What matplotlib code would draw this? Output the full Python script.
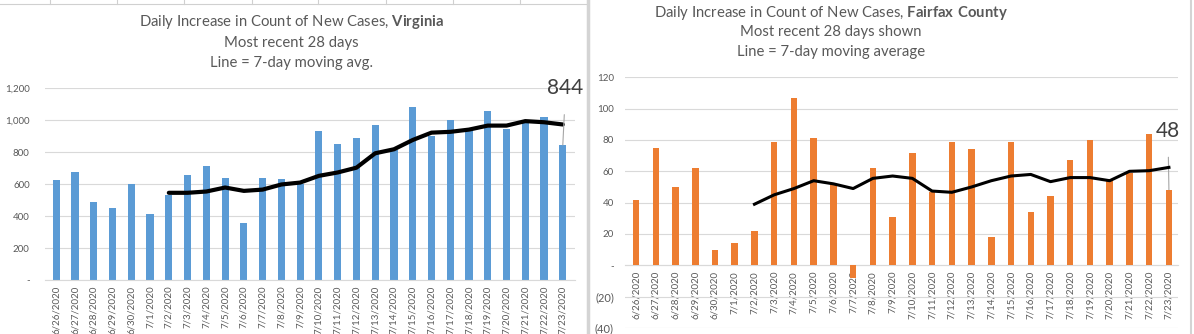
import matplotlib
matplotlib.use("Agg")
import matplotlib.pyplot as plt
from matplotlib.lines import Line2D
import numpy as np

plt.rcParams['font.family'] = ['Lato', 'DejaVu Sans']
plt.rcParams['mathtext.fontset'] = 'custom'
plt.rcParams['mathtext.rm'] = 'Lato'
plt.rcParams['mathtext.bf'] = 'Lato:bold'

dates = ["6/26/2020", "6/27/2020", "6/28/2020", "6/29/2020", "6/30/2020", "7/1/2020",
         "7/2/2020", "7/3/2020", "7/4/2020", "7/5/2020", "7/6/2020", "7/7/2020",
         "7/8/2020", "7/9/2020", "7/10/2020", "7/11/2020", "7/12/2020", "7/13/2020",
         "7/14/2020", "7/15/2020", "7/16/2020", "7/17/2020", "7/18/2020", "7/19/2020",
         "7/20/2020", "7/21/2020", "7/22/2020", "7/23/2020"]

va_cases = [624, 674, 486, 448, 601, 410, 534, 655, 714, 637, 356, 637, 630, 603,
            932, 850, 890, 970, 812, 1083, 903, 1001, 942, 1058, 945, 980, 1020, 844]
va_avg = [None] * 6 + [545, 545, 553, 578, 557, 565, 597, 609, 651, 672, 702, 792,
                       817, 875, 921, 926, 940, 965, 965, 993, 986, 972]

ff_cases = [42, 75, 50, 62, 10, 14, 22, 79, 107, 81, 52, -8, 62, 31, 72, 47, 79, 74,
            18, 79, 34, 44, 67, 80, 55, 59, 84, 48]
ff_avg = [None] * 6 + [39, 45, 49, 54, 52, 49, 55.5, 57, 55.5, 47.4, 46.6, 50, 54,
                       57, 58, 53.4, 56, 56, 54, 60, 60.4, 62.5]

va_yticks = [0, 200, 400, 600, 800, 1000, 1200]
ff_yticks = [-40, -20, 0, 20, 40, 60, 80, 100, 120]

TXT = '#595959'
GRID = '#d9d9d9'
W, H = 1194, 334

fig = plt.figure(figsize=(W / 100, H / 100), dpi=100)
fig.patch.set_facecolor('white')


def fx(px):
    return px / W


def fy(py):
    return 1 - py / H


def fmt_va(v):
    return '-' if v == 0 else f"{v:,}"


def fmt_ff(v):
    if v == 0:
        return '-'
    if v < 0:
        return f"({-v})"
    return f"{v}"


def avg_xy(avg):
    xs = [i for i, v in enumerate(avg) if v is not None]
    ys = [avg[i] for i in xs]
    return xs, ys


x = np.arange(len(dates))

# ---------------- Left chart: Virginia ----------------
ax1 = fig.add_axes([fx(45), fy(280), fx(575 - 45), (280 - 88) / H])
ax1.bar(x, va_cases, width=0.38, color='#5b9bd5', zorder=2)
xs, ys = avg_xy(va_avg)
ax1.plot(xs, ys, color='black', lw=3.0, zorder=3, solid_capstyle='round')
ax1.set_ylim(0, 1200)
ax1.set_xlim(-0.6, 27.65)
ax1.set_yticks(va_yticks)
ax1.set_yticklabels([fmt_va(v) for v in va_yticks])
ax1.set_xticks(x)
ax1.set_xticklabels(dates)
ax1.grid(axis='y', color=GRID, lw=0.8, zorder=0)
for s in ['top', 'right', 'left']:
    ax1.spines[s].set_visible(False)
ax1.spines['bottom'].set_color(GRID)
ax1.tick_params(axis='y', length=0, pad=11, labelsize=7, labelcolor=TXT)
ax1.tick_params(axis='x', length=0, pad=4, labelsize=7, labelcolor=TXT, labelrotation=90)
ax1.annotate(f"{va_cases[-1]}", xy=(27, va_cases[-1]), xytext=(27.15, 1200),
             ha='center', va='center', fontsize=15, color='#404040',
             arrowprops=dict(arrowstyle='-', color='#a6a6a6', lw=0.8,
                             shrinkA=10, shrinkB=0), annotation_clip=False)

fig.text(fx(291), fy(22), r"Daily Increase in Count of New Cases, $\mathbf{Virginia}$",
         ha='center', va='center', fontsize=10.7, color=TXT)
fig.text(fx(291), fy(43), "Most recent 28 days", ha='center', va='center',
         fontsize=10.7, color=TXT)
fig.text(fx(291), fy(63), "Line = 7-day moving avg.", ha='center', va='center',
         fontsize=10.7, color=TXT)

# ---------------- Right chart: Fairfax ----------------
ax2 = fig.add_axes([fx(625), fy(328), fx(1178 - 625), (328 - 77.3) / H])
ax2.spines['bottom'].set_position(('data', 0))
ax2.bar(x, ff_cases, width=0.33, color='#ed7d31', zorder=4)
xs, ys = avg_xy(ff_avg)
ax2.plot(xs, ys, color='black', lw=2.2, zorder=5)
ax2.set_ylim(-40, 120)
ax2.set_xlim(-0.56, 27.46)
ax2.set_yticks(ff_yticks)
ax2.set_yticklabels([fmt_ff(v) for v in ff_yticks])
ax2.set_xticks(x)
ax2.set_xticklabels(dates)
ax2.grid(axis='y', color=GRID, lw=0.8, zorder=0)
for s in ['top', 'right', 'left']:
    ax2.spines[s].set_visible(False)
ax2.spines['bottom'].set_color(GRID)
ax2.tick_params(axis='y', length=0, pad=8, labelsize=7, labelcolor=TXT)
ax2.tick_params(axis='x', length=0, pad=4, labelsize=7, labelcolor=TXT, labelrotation=90)
for v, lab in zip(ff_yticks, ax2.get_yticklabels()):
    if v < 0:
        lab.set_fontsize(8)
ax2.annotate(f"{ff_cases[-1]}", xy=(27, ff_cases[-1]), xytext=(26.95, 86),
             ha='center', va='center', fontsize=15, color='#404040',
             arrowprops=dict(arrowstyle='-', color='#a6a6a6', lw=0.8,
                             shrinkA=10, shrinkB=0), annotation_clip=False)

fig.text(fx(831), fy(13), r"Daily Increase in Count of New Cases, $\mathbf{Fairfax\ County}$",
         ha='center', va='center', fontsize=10.7, color=TXT)
fig.text(fx(831), fy(32), "Most recent 28 days shown", ha='center', va='center',
         fontsize=10.7, color=TXT)
fig.text(fx(831), fy(52), "Line = 7-day moving average", ha='center', va='center',
         fontsize=10.7, color=TXT)

# ---------------- Decorations (sheet grid / separators) ----------------
fig.add_artist(Line2D([fx(0), fx(586)], [fy(3.5), fy(3.5)], color='#d0d0d0', lw=0.8))
for px in [50, 117, 184, 252, 318, 386, 453, 520]:
    fig.add_artist(Line2D([fx(px), fx(px)], [fy(0), fy(3.5)], color='#d0d0d0', lw=0.8))
fig.add_artist(Line2D([fx(587.5), fx(587.5)], [0, 1], color='#d4d4d4', lw=2.5))
fig.add_artist(Line2D([fx(1191), fx(1191)], [0, 1], color='#d4d4d4', lw=1.5))

fig.savefig('out.png', dpi=100, facecolor='white')
